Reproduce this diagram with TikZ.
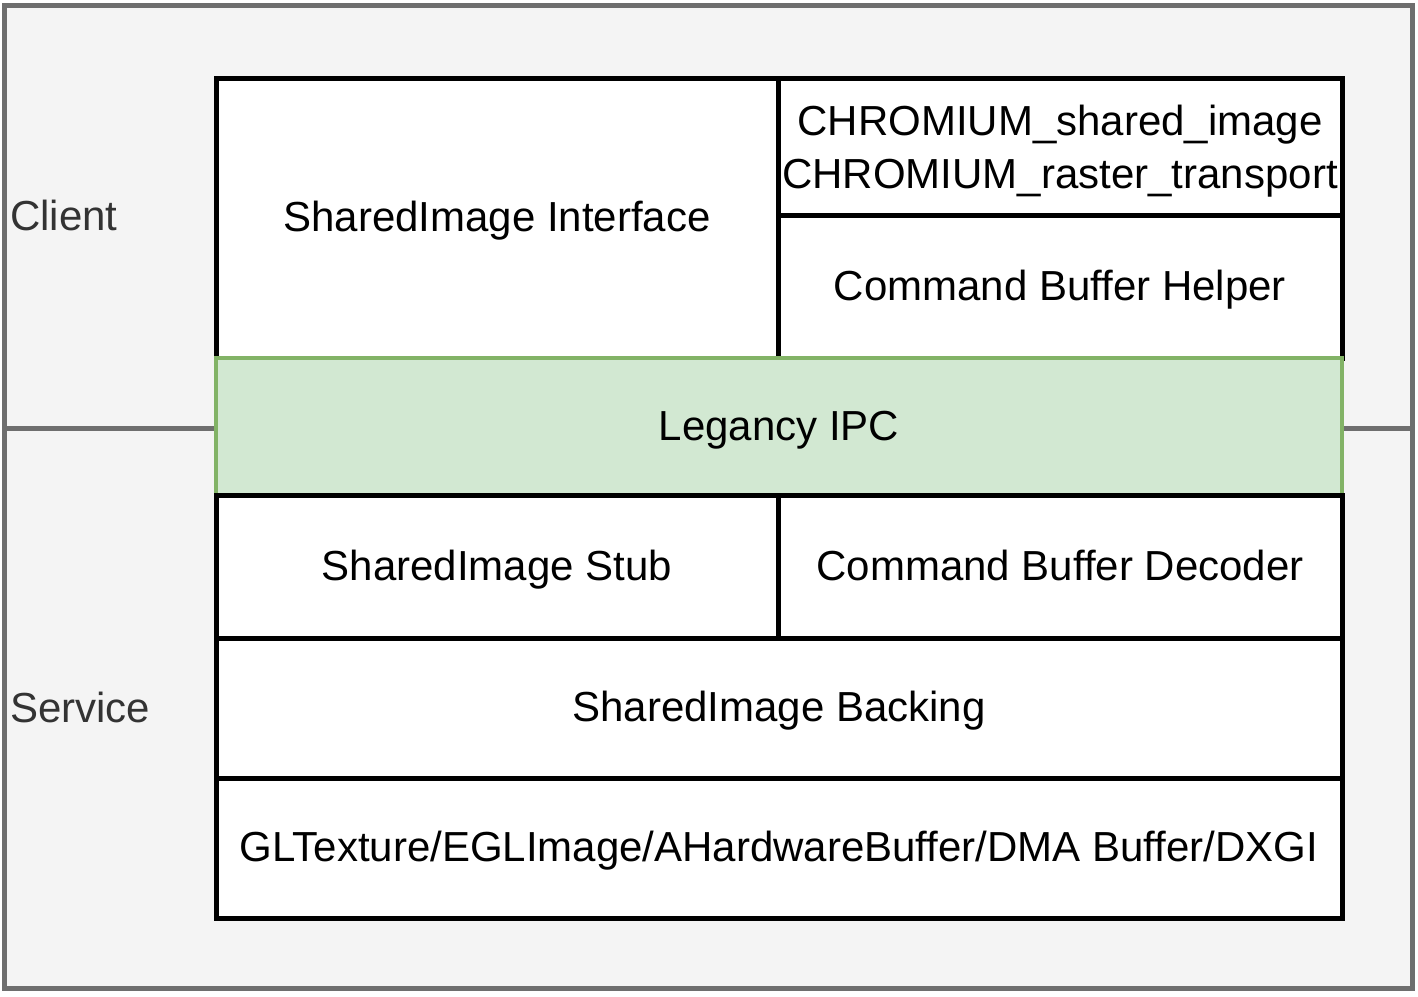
\documentclass[tikz,border=0pt]{standalone}
\usepackage{fontspec}
\setmainfont{Liberation Sans}
\definecolor{grpfill}{HTML}{F4F4F4}
\definecolor{grpline}{HTML}{6E6E6E}
\definecolor{grptext}{HTML}{333333}
\definecolor{ipcfill}{HTML}{D2E8D2}
\definecolor{ipcline}{HTML}{82B366}
\tikzset{
  grp/.style={draw=grpline, fill=grpfill, line width=5pt},
  grplabel/.style={anchor=west, inner sep=0pt, text=grptext, font=\fontsize{42}{50}\selectfont},
  layer/.style={draw=black, fill=white, line width=5pt, inner sep=0pt, align=center,
    font=\fontsize{42}{53}\selectfont},
  oneline/.style={text height=33pt, text depth=6pt},
  ipc/.style={layer, draw=ipcline, fill=ipcfill, line width=4.5pt}
}
\begin{document}
\begin{tikzpicture}[x=1pt,y=-1pt]
\useasboundingbox (0,0) rectangle (1418,996);
% groups
\node[grp, minimum width=1408pt, minimum height=423pt, inner sep=0pt] (client) at (708,216.5) {};
\node[grp, minimum width=1408pt, minimum height=560pt, inner sep=0pt] (service) at (708,708) {};
\node[grplabel] (clientlbl) at (10,215) {Client};
\node[grplabel] (servicelbl) at (10,707) {Service};
% upper layers
\node[layer, oneline, minimum width=562pt, minimum height=280pt] (sii) at (497,218) {SharedImage Interface};
\node[layer, minimum width=564pt, minimum height=137pt] (ext) at (1060,146.5) {\rule{0pt}{39pt}CHROMIUM\_shared\_image\\CHROMIUM\_raster\_transport};
\node[layer, oneline, minimum width=564pt, minimum height=143pt] (cbh) at (1060,286.5) {Command Buffer Helper};
% IPC
\node[ipc, oneline, minimum width=1126pt, minimum height=137pt] (ipc) at (779,426.5) {Legancy IPC};
% lower layers
\node[layer, oneline, minimum width=562pt, minimum height=143pt] (stub) at (497,566.5) {SharedImage Stub};
\node[layer, oneline, minimum width=564pt, minimum height=143pt] (dec) at (1060,566.5) {Command Buffer Decoder};
\node[layer, oneline, minimum width=1126pt, minimum height=140pt] (back) at (779,708) {SharedImage Backing};
\node[layer, oneline, minimum width=1126pt, minimum height=140pt] (gl) at (779,848) {GLTexture/EGLImage/AHardwareBuffer/DMA Buffer/DXGI};
\end{tikzpicture}
\end{document}
